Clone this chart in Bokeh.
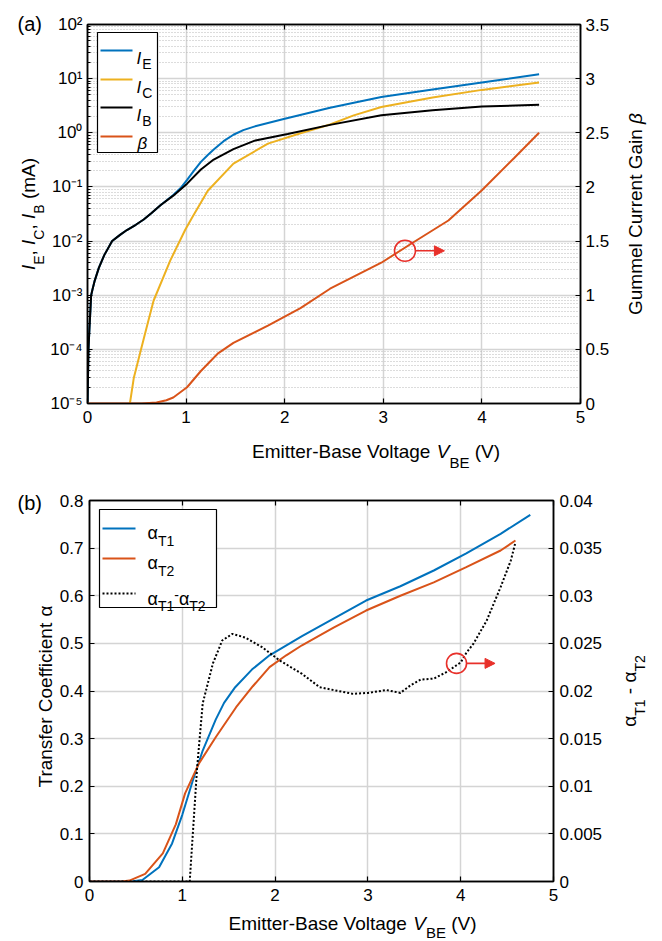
import math
from bokeh.plotting import figure
from bokeh.models import (Range1d, LinearAxis, LinearScale, FixedTicker,
                          CustomJSTickFormatter, Label, Arrow, NormalHead, BoxAnnotation)
from bokeh.layouts import column, row
from bokeh.embed import file_html
from bokeh.resources import INLINE

FONT = "Liberation Sans"
BLUE = "#0072BD"
ORANGE = "#D95319"
YELLOW = "#EDB120"
RED = "#E8302A"

# ---------------- panel (a) data ----------------
vbe_ie = [0, 0.005, 0.01, 0.02, 0.03, 0.037, 0.05, 0.071, 0.115, 0.17, 0.25, 0.33, 0.40,
          0.49, 0.57, 0.65, 0.74, 0.87, 0.95, 1.01, 1.08, 1.15, 1.22, 1.28, 1.38, 1.48,
          1.58, 1.69, 1.99, 2.46, 2.98, 3.5, 4.0, 4.58]
ie_ma = [1e-5, 3e-5, 1e-4, 2.5e-4, 5.6e-4, 1e-3, 1.26e-3, 1.8e-3, 3.2e-3, 5.5e-3, 1e-2,
         1.3e-2, 1.6e-2, 2e-2, 2.5e-2, 3.3e-2, 4.6e-2, 0.071, 0.098, 0.135, 0.2, 0.29,
         0.39, 0.49, 0.7, 0.92, 1.12, 1.3, 1.8, 2.9, 4.6, 6.3, 8.5, 12.0]

vbe_ic = [0.43, 0.47, 0.54, 0.61, 0.67, 0.84, 0.99, 1.06, 1.22, 1.48, 1.83, 2.16, 2.46,
          2.7, 2.98, 3.5, 4.0, 4.58]
ic_ma = [1e-5, 3e-5, 9.5e-5, 3e-4, 7.9e-4, 4.4e-3, 0.016, 0.027, 0.085, 0.27, 0.63,
         0.98, 1.42, 2.1, 3.0, 4.5, 6.2, 8.5]

vbe_ib = [0, 0.005, 0.01, 0.02, 0.03, 0.037, 0.05, 0.071, 0.115, 0.17, 0.25, 0.33, 0.40,
          0.49, 0.57, 0.65, 0.74, 0.87, 1.01, 1.15, 1.28, 1.48, 1.69, 2.03, 2.46, 2.98,
          3.5, 4.0, 4.58]
ib_ma = [1e-5, 3e-5, 1e-4, 2.5e-4, 5.6e-4, 1e-3, 1.26e-3, 1.8e-3, 3.2e-3, 5.5e-3, 1e-2,
         1.3e-2, 1.6e-2, 2e-2, 2.5e-2, 3.3e-2, 4.6e-2, 0.069, 0.115, 0.21, 0.32, 0.5,
         0.71, 0.95, 1.4, 2.1, 2.6, 3.05, 3.3]

vbe_beta = [0, 0.55, 0.7, 0.8, 0.87, 1.01, 1.15, 1.32, 1.48, 1.83, 2.16, 2.46, 2.98,
            3.29, 3.66, 4.0, 4.33, 4.58]
beta = [0, 0, 0.01, 0.03, 0.055, 0.15, 0.30, 0.46, 0.56, 0.72, 0.88, 1.06, 1.30,
        1.48, 1.69, 1.97, 2.27, 2.50]

x_ticks = [0, 1, 2, 3, 4, 5]
a_decades = [1e-5, 1e-4, 1e-3, 1e-2, 1e-1, 1e0, 1e1, 1e2]
a_minor = [m * d for d in a_decades[:-1] for m in range(2, 10)]
beta_ticks = [0, 0.5, 1, 1.5, 2, 2.5, 3, 3.5]
annot_a = {"x": 3.22, "y": 1.41, "arrow_x0": 3.32, "arrow_x1": 3.62}

# ---------------- panel (b) data ----------------
vbe_t1 = [0, 0.45, 0.57, 0.75, 0.89, 1.0, 1.11, 1.22, 1.36, 1.45, 1.57, 1.75, 1.94, 2.29,
          2.63, 2.98, 3.35, 3.71, 4.06, 4.43, 4.75]
alpha_t1 = [0, 0, 0.003, 0.03, 0.08, 0.14, 0.21, 0.275, 0.34, 0.375, 0.408, 0.445, 0.475,
            0.515, 0.552, 0.59, 0.62, 0.653, 0.689, 0.73, 0.77]

vbe_t2 = [0, 0.35, 0.43, 0.6, 0.79, 0.93, 1.03, 1.18, 1.36, 1.58, 1.76, 1.94, 2.12, 2.29,
          2.63, 2.98, 3.35, 3.71, 4.06, 4.43, 4.59]
alpha_t2 = [0, 0, 0.002, 0.016, 0.059, 0.12, 0.185, 0.248, 0.303, 0.366, 0.41, 0.45,
            0.475, 0.496, 0.533, 0.569, 0.60, 0.628, 0.66, 0.695, 0.716]

vbe_diff = [0, 1.08, 1.12, 1.16, 1.22, 1.33, 1.43, 1.54, 1.68, 1.86, 2.05, 2.29, 2.48,
            2.63, 2.84, 3.0, 3.2, 3.35, 3.46, 3.57, 3.71, 3.85, 4.0, 4.06, 4.14, 4.28,
            4.43, 4.54, 4.59]
alpha_diff = [0, 0, 0.006, 0.012, 0.0187, 0.0229, 0.0253, 0.026, 0.0256, 0.0246, 0.0232,
              0.0218, 0.0204, 0.0201, 0.0197, 0.0198, 0.0201, 0.0198, 0.0206, 0.0212,
              0.0213, 0.022, 0.023, 0.024, 0.025, 0.0274, 0.0309, 0.0337, 0.0356]

b_left_ticks = [0, 0.1, 0.2, 0.3, 0.4, 0.5, 0.6, 0.7, 0.8]
b_right_ticks = [0, 0.005, 0.01, 0.015, 0.02, 0.025, 0.03, 0.035, 0.04]
annot_b = {"x": 3.955, "y": 0.0229, "arrow_x0": 4.065, "arrow_x1": 4.37}

# ---------------- helpers ----------------
W = {" ": 278, "(": 333, ")": 333, ",": 278, "-": 333, ".": 278, "\u2212": 584,
     "A": 667, "B": 667, "C": 722, "E": 667, "G": 778, "I": 278, "T": 611, "V": 667,
     "a": 556, "c": 500, "e": 556, "f": 278, "g": 556, "i": 222, "l": 222, "m": 833,
     "n": 556, "o": 556, "r": 333, "s": 500, "t": 278, "u": 556,
     "\u03b1": 578, "\u03b2": 575}


def tw(s, size):
    return sum(W.get(ch, 556) for ch in s) / 1000.0 * size


def rich(p, pieces, x, y, angle=0.0, align="left"):
    """pieces: (text, size, style, drop); screen units relative to the frame.
    Leading/trailing spaces only advance the pen (SVG would collapse them)."""
    total = sum(tw(t, s) for t, s, _, _ in pieces)
    cur = {"left": 0.0, "center": -total / 2.0, "right": -total}[align]
    for t, s, st, d in pieces:
        core = t.strip(" ")
        lead = len(t) - len(t.lstrip(" "))
        cur_core = cur + tw(" " * lead, s)
        if core:
            if angle == 0:
                lx, ly = x + cur_core, y - d
            else:
                lx, ly = x + d, y + cur_core
            p.add_layout(Label(x=lx, y=ly, x_units="screen", y_units="screen", text=core,
                               text_font=FONT, text_font_size=f"{s}px",
                               text_font_style=st, text_color="black", text_align="left",
                               text_baseline="alphabetic", angle=angle))
        cur += tw(t, s)


def strip(w, h):
    s = figure(width=w, height=h, x_range=Range1d(0, w), y_range=Range1d(0, h),
               min_border=0, min_border_left=0, min_border_right=0, min_border_top=0,
               min_border_bottom=0, toolbar_location=None, output_backend="svg",
               x_axis_location=None, y_axis_location=None,
               background_fill_color="white", border_fill_color="white")
    s.outline_line_color = None
    s.grid.visible = False
    return s


def style_axis(ax, tick_in=5):
    ax.axis_line_color = "black"
    ax.axis_line_width = 1.5
    ax.major_tick_line_color = "black"
    ax.major_tick_line_width = 1.2
    ax.major_tick_in = tick_in
    ax.major_tick_out = 0
    ax.minor_tick_line_color = None
    ax.major_label_text_font = FONT
    ax.major_label_text_font_size = "17px"
    ax.major_label_text_color = "black"
    ax.axis_label_standoff = 0


def no_labels(ax):
    ax.formatter = CustomJSTickFormatter(code="return '';")
    ax.major_label_text_font_size = "0px"
    ax.major_label_standoff = 0


dec_fmt = "return parseFloat(tick.toFixed(4)).toString();"
pow_fmt = """
const sup = {'-': '\u207b', '0': '\u2070', '1': '\u00b9', '2': '\u00b2', '3': '\u00b3',
             '4': '\u2074', '5': '\u2075', '6': '\u2076', '7': '\u2077', '8': '\u2078',
             '9': '\u2079'};
const e = Math.round(Math.log10(tick));
return '10' + String(e).split('').map(c => sup[c]).join('');
"""
ROT = math.pi / 2

# ================= panel (a) =================
FWA, FHA = 493, 379
pa = figure(frame_width=FWA, frame_height=FHA, x_range=Range1d(0, 5),
            y_range=Range1d(1e-5, 1e2), y_axis_type="log",
            output_backend="svg", toolbar_location=None,
            min_border_left=42, min_border_right=32, min_border_top=24,
            min_border_bottom=29, background_fill_color="white",
            border_fill_color="white")
pa.extra_y_ranges = {"beta": Range1d(0, 3.5)}
pa.extra_y_scales = {"beta": LinearScale()}
pa.outline_line_color = "black"
pa.outline_line_width = 1.5

bx = pa.below[0]
bx.ticker = FixedTicker(ticks=x_ticks)
style_axis(bx)
bx.formatter = CustomJSTickFormatter(code="return tick.toFixed(0);")
bx.major_label_standoff = 7

logt = FixedTicker(ticks=a_decades, minor_ticks=a_minor)
ly = pa.left[0]
ly.ticker = logt
style_axis(ly)
ly.formatter = CustomJSTickFormatter(code=pow_fmt)
ly.major_label_standoff = 5
ly.minor_tick_line_color = "black"
ly.minor_tick_line_width = 1
ly.minor_tick_in = 3
ly.minor_tick_out = 0

ry = LinearAxis(y_range_name="beta", ticker=FixedTicker(ticks=beta_ticks),
                formatter=CustomJSTickFormatter(code=dec_fmt))
style_axis(ry)
ry.major_label_standoff = 5
pa.add_layout(ry, "right")

tx = LinearAxis(ticker=FixedTicker(ticks=x_ticks))
style_axis(tx)
no_labels(tx)
pa.add_layout(tx, "above")

pa.xgrid.ticker = FixedTicker(ticks=x_ticks)
pa.ygrid.ticker = logt
for g in (pa.xgrid, pa.ygrid):
    g.grid_line_color = "#d4d4d4"
    g.grid_line_width = 1.5
pa.ygrid.minor_grid_line_color = "#b8b8b8"
pa.ygrid.minor_grid_line_dash = "1 2"
pa.ygrid.minor_grid_line_width = 1

pa.line(vbe_ie, ie_ma, line_color=BLUE, line_width=2)
pa.line(vbe_ic, ic_ma, line_color=YELLOW, line_width=2)
pa.line(vbe_ib, ib_ma, line_color="black", line_width=2)
pa.line(vbe_beta, beta, line_color=ORANGE, line_width=2, y_range_name="beta")

pa.scatter([annot_a["x"]], [annot_a["y"]], y_range_name="beta", marker="circle",
           size=21, fill_color=None, line_color=RED, line_width=1.6)
pa.add_layout(Arrow(end=NormalHead(size=10, fill_color=RED, line_color=RED),
                    x_start=annot_a["arrow_x0"], y_start=annot_a["y"],
                    x_end=annot_a["arrow_x1"], y_end=annot_a["y"],
                    y_range_name="beta", line_color=RED, line_width=1.6))

# legend (a)
pa.add_layout(BoxAnnotation(left=10, right=70, top=371, bottom=251, left_units="screen",
                            right_units="screen", top_units="screen",
                            bottom_units="screen", fill_color="white", fill_alpha=1,
                            line_color="black", line_width=1.2, line_alpha=1))
leg_a = [(BLUE, "E", 353), (YELLOW, "C", 324), ("black", "B", 296), (ORANGE, None, 267)]
for col, sub, ry_ in leg_a:
    pa.add_layout(Arrow(start=None, end=None, x_start=13, y_start=ry_, x_end=45,
                        y_end=ry_, start_units="screen", end_units="screen",
                        line_color=col, line_width=2))
    if sub is None:
        rich(pa, [("\u03b2", 17, "italic", 0)], 50, ry_ - 7)
    else:
        rich(pa, [("I", 17, "italic", 0), (" ", 4, "normal", 0), (sub, 14, "normal", 5)],
             49, ry_ - 8)

# strips around (a)
la = strip(45, 470)
rich(la, [("I", 19, "italic", 0), ("E", 14, "normal", 10), (", ", 19, "normal", 0),
          ("I", 19, "italic", 0), ("C", 14, "normal", 10), (", ", 19, "normal", 0),
          ("I", 19, "italic", 0), ("B", 14, "normal", 10), (" (mA)", 19, "normal", 0)],
     28, 256.5, angle=ROT, align="center")
la.add_layout(Label(x=17, y=447, x_units="screen", y_units="screen", text="(a)",
                    text_font=FONT, text_font_size="20px", text_color="black",
                    text_baseline="alphabetic"))

ba = strip(567, 38)
rich(ba, [("Emitter-Base Voltage ", 19, "normal", 0), ("V", 19, "italic", 0),
          ("BE", 15, "normal", 11), (" (V)", 19, "normal", 0)],
     288.5, 19, align="center")

ra = strip(49, 470)
rich(ra, [("Gummel Current Gain ", 19, "normal", 0), ("\u03b2", 19, "italic", 0)],
     23, 256.5, angle=ROT, align="center")

# ================= panel (b) =================
FWB, FHB = 464, 381
pb = figure(frame_width=FWB, frame_height=FHB, x_range=Range1d(0, 5),
            y_range=Range1d(0, 0.8), output_backend="svg", toolbar_location=None,
            min_border_left=31, min_border_right=59, min_border_top=30,
            min_border_bottom=26, background_fill_color="white",
            border_fill_color="white")
pb.extra_y_ranges = {"diff": Range1d(0, 0.04)}
pb.extra_y_scales = {"diff": LinearScale()}
pb.outline_line_color = "black"
pb.outline_line_width = 1.5

bxb = pb.below[0]
bxb.ticker = FixedTicker(ticks=x_ticks)
style_axis(bxb)
bxb.formatter = CustomJSTickFormatter(code="return tick.toFixed(0);")
bxb.major_label_standoff = 7

lyb = pb.left[0]
lyb.ticker = FixedTicker(ticks=b_left_ticks)
style_axis(lyb)
lyb.formatter = CustomJSTickFormatter(code=dec_fmt)
lyb.major_label_standoff = 6

ryb = LinearAxis(y_range_name="diff", ticker=FixedTicker(ticks=b_right_ticks),
                 formatter=CustomJSTickFormatter(code=dec_fmt))
style_axis(ryb)
ryb.major_label_standoff = 6
pb.add_layout(ryb, "right")

txb = LinearAxis(ticker=FixedTicker(ticks=x_ticks))
style_axis(txb)
no_labels(txb)
pb.add_layout(txb, "above")

pb.xgrid.ticker = FixedTicker(ticks=x_ticks)
pb.ygrid.ticker = FixedTicker(ticks=b_left_ticks)
for g in (pb.xgrid, pb.ygrid):
    g.grid_line_color = "#d4d4d4"
    g.grid_line_width = 1.5

pb.line(vbe_t1, alpha_t1, line_color=BLUE, line_width=2)
pb.line(vbe_t2, alpha_t2, line_color=ORANGE, line_width=2)
pb.line(vbe_diff, alpha_diff, line_color="black", line_width=2, line_dash="2 2",
        y_range_name="diff")

pb.scatter([annot_b["x"]], [annot_b["y"]], y_range_name="diff", marker="circle",
           size=20, fill_color=None, line_color=RED, line_width=1.6)
pb.add_layout(Arrow(end=NormalHead(size=10, fill_color=RED, line_color=RED),
                    x_start=annot_b["arrow_x0"], y_start=annot_b["y"],
                    x_end=annot_b["arrow_x1"], y_end=annot_b["y"],
                    y_range_name="diff", line_color=RED, line_width=1.6))

# legend (b)
pb.add_layout(BoxAnnotation(left=10, right=127, top=372, bottom=274, left_units="screen",
                            right_units="screen", top_units="screen",
                            bottom_units="screen", fill_color="white", fill_alpha=1,
                            line_color="black", line_width=1.2, line_alpha=1))
for col, yy, dash in [(BLUE, 353, "solid"), (ORANGE, 323, "solid"), ("black", 288, "2 2")]:
    pb.add_layout(Arrow(start=None, end=None, x_start=13, y_start=yy, x_end=46, y_end=yy,
                        start_units="screen", end_units="screen", line_color=col,
                        line_width=2, line_dash=dash))
rich(pb, [("\u03b1", 18, "normal", 0), ("T1", 14, "normal", 8)], 58, 349)
rich(pb, [("\u03b1", 18, "normal", 0), ("T2", 14, "normal", 8)], 58, 319)
rich(pb, [("\u03b1", 18, "normal", 0), ("T1", 14, "normal", 7), ("-", 14, "normal", -4),
          ("\u03b1", 18, "normal", 0), ("T2", 14, "normal", 7)], 58, 283)

# strips around (b)
lb = strip(56, 471)
rich(lb, [("Transfer Coefficient ", 19, "normal", 0), ("\u03b1", 19, "normal", 0)],
     45, 245, angle=ROT, align="center")
lb.add_layout(Label(x=17, y=439, x_units="screen", y_units="screen", text="(b)",
                    text_font=FONT, text_font_size="20px", text_color="black",
                    text_baseline="alphabetic"))

bb = strip(554, 33)
rich(bb, [("Emitter-Base Voltage ", 19, "normal", 0), ("V", 19, "italic", 0),
          ("BE", 15, "normal", 9), (" (V)", 19, "normal", 0)],
     263, 17, align="center")

rb = strip(51, 471)
rich(rb, [("\u03b1", 19, "normal", 0), ("T1", 14, "normal", 10), (" - ", 19, "normal", 0),
          ("\u03b1", 19, "normal", 0), ("T2", 14, "normal", 10)],
     17, 250.5, angle=ROT, align="center")

layout = column(row(la, column(pa, ba), ra), row(lb, column(pb, bb), rb))
open("out.html", "w").write(file_html(layout, INLINE))
